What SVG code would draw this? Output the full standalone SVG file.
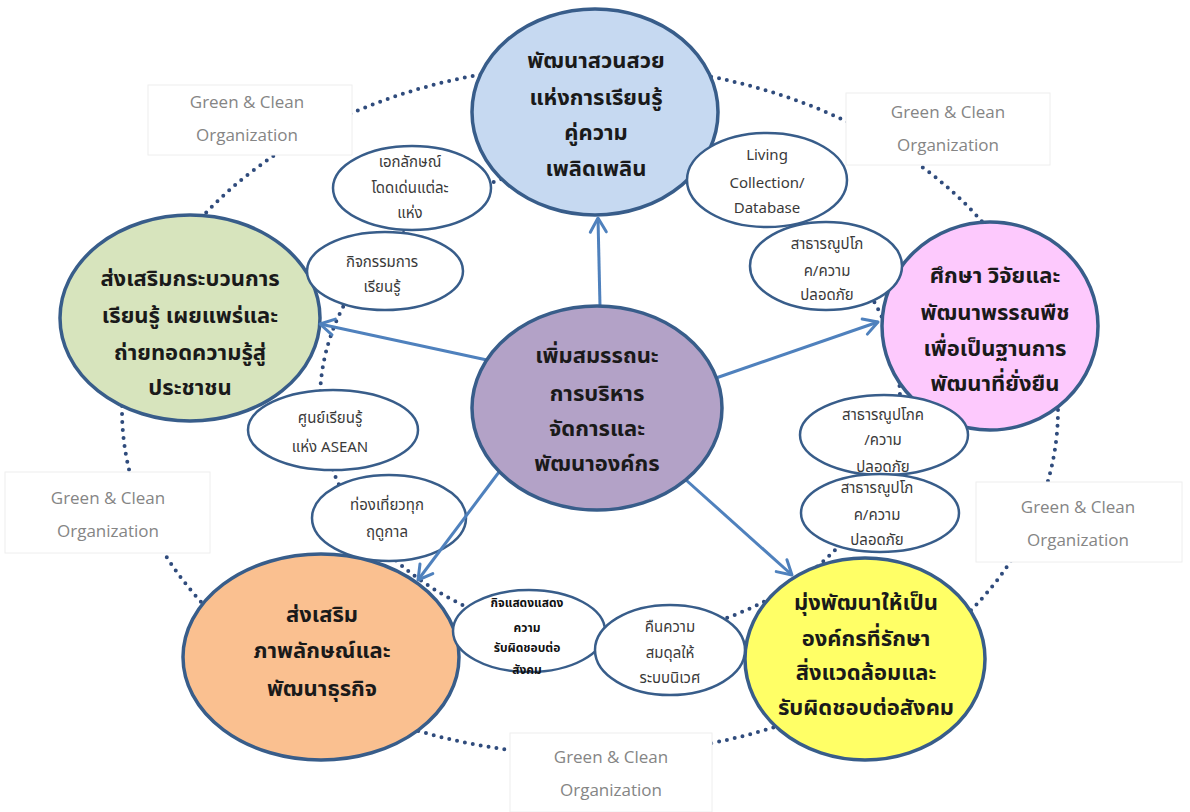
<svg xmlns="http://www.w3.org/2000/svg" width="1190" height="812" viewBox="0 0 1190 812">
<defs>
<style>
.ring{fill:none;stroke:#2F4B7C;stroke-width:4;stroke-linecap:round;stroke-dasharray:0 8}
.big{stroke:#385D8A;stroke-width:3.5}
.sm{fill:#ffffff;stroke:#385D8A;stroke-width:2.5}
.gbox{fill:#ffffff;stroke:#eeeeee;stroke-width:1}
.bt{font-family:"Noto Sans Thai","Noto Sans Thai UI","Noto Sans","DejaVu Sans",sans-serif;font-weight:bold;font-size:22px;fill:#1a1a1a;text-anchor:middle}
.st{font-family:"Noto Sans Thai","Noto Sans Thai UI","Noto Sans","DejaVu Sans",sans-serif;font-size:15px;fill:#3a3a3a;text-anchor:middle}
.sb{font-family:"Noto Sans Thai","Noto Sans Thai UI","Noto Sans","DejaVu Sans",sans-serif;font-size:12px;font-weight:bold;fill:#111;text-anchor:middle}
.gt{font-family:"Open Sans","Noto Sans",sans-serif;font-size:17px;fill:#858585;text-anchor:middle}
.arr{fill:none;stroke:#4F81BD;stroke-width:3;marker-end:url(#ah)}
</style>
<marker id="ah" markerUnits="userSpaceOnUse" markerWidth="22" markerHeight="22" viewBox="0 0 22 22" refX="19" refY="11" orient="auto">
<path d="M5,3 L19,11 L5,19" fill="none" stroke="#4F81BD" stroke-width="3" stroke-linecap="round" stroke-linejoin="round"/>
</marker>
</defs>
<rect width="1190" height="812" fill="#ffffff"/>

<g id="rings">
<ellipse class="ring" cx="590" cy="410" rx="468" ry="345"/>
<ellipse class="ring" cx="610" cy="400" rx="290" ry="238"/>
</g>

<g id="label-tl"><rect class="gbox" x="148" y="85" width="204" height="70"/><text class="gt" x="247" y="108">Green &amp; Clean</text><text class="gt" x="247" y="141">Organization</text></g>
<g id="label-tr"><rect class="gbox" x="846" y="93" width="204" height="72"/><text class="gt" x="948" y="118">Green &amp; Clean</text><text class="gt" x="948" y="151">Organization</text></g>
<g id="label-l"><rect class="gbox" x="5" y="472" width="205" height="81"/><text class="gt" x="108" y="504">Green &amp; Clean</text><text class="gt" x="108" y="537">Organization</text></g>
<g id="label-r"><rect class="gbox" x="976" y="482" width="206" height="80"/><text class="gt" x="1078" y="513">Green &amp; Clean</text><text class="gt" x="1078" y="546">Organization</text></g>
<g id="label-b"><rect class="gbox" x="510" y="733" width="202" height="79"/><text class="gt" x="611" y="763">Green &amp; Clean</text><text class="gt" x="611" y="796">Organization</text></g>

<g id="n-top"><ellipse class="big" cx="595" cy="112" rx="123" ry="103" fill="#C6D9F1"/>
<text class="bt" x="596" y="68">พัฒนาสวนสวย</text><text class="bt" x="596" y="105">แห่งการเรียนรู้</text><text class="bt" x="596" y="140">คู่ความ</text><text class="bt" x="596" y="176">เพลิดเพลิน</text></g>

<g id="n-left"><ellipse class="big" cx="190" cy="318" rx="130" ry="103" fill="#D7E4BD"/>
<text class="bt" x="190" y="286">ส่งเสริมกระบวนการ</text><text class="bt" x="190" y="323">เรียนรู้ เผยแพร่และ</text><text class="bt" x="190" y="360">ถ่ายทอดความรู้สู่</text><text class="bt" x="190" y="395">ประชาชน</text></g>

<g id="n-right"><ellipse class="big" cx="990" cy="326" rx="108" ry="104" fill="#FDC9FD"/>
<text class="bt" x="995" y="283">ศึกษา วิจัยและ</text><text class="bt" x="995" y="320">พัฒนาพรรณพืช</text><text class="bt" x="995" y="356">เพื่อเป็นฐานการ</text><text class="bt" x="995" y="391">พัฒนาที่ยั่งยืน</text></g>

<g id="n-bl"><ellipse class="big" cx="321" cy="657" rx="138" ry="103" fill="#FAC090"/>
<text class="bt" x="322" y="622">ส่งเสริม</text><text class="bt" x="322" y="658">ภาพลักษณ์และ</text><text class="bt" x="322" y="696">พัฒนาธุรกิจ</text></g>

<g id="n-br"><ellipse class="big" cx="865" cy="659" rx="120" ry="101" fill="#FFFF66"/>
<text class="bt" x="866" y="610">มุ่งพัฒนาให้เป็น</text><text class="bt" x="866" y="646">องค์กรที่รักษา</text><text class="bt" x="866" y="680">สิ่งแวดล้อมและ</text><text class="bt" x="866" y="715">รับผิดชอบต่อสังคม</text></g>

<g id="s1"><ellipse class="sm" cx="412" cy="188" rx="79" ry="42"/>
<text class="st" x="410" y="167">เอกลักษณ์</text><text class="st" x="410" y="193">โดดเด่นแต่ละ</text><text class="st" x="410" y="218">แห่ง</text></g>
<g id="s2"><ellipse class="sm" cx="385" cy="271" rx="78" ry="39"/>
<text class="st" x="382" y="267">กิจกรรมการ</text><text class="st" x="382" y="292">เรียนรู้</text></g>
<g id="s3"><ellipse class="sm" cx="767" cy="180" rx="80" ry="47"/>
<text class="st" x="767" y="160">Living</text><text class="st" x="767" y="188">Collection/</text><text class="st" x="767" y="213">Database</text></g>
<g id="s4"><ellipse class="sm" cx="826" cy="266" rx="76" ry="44"/>
<text class="st" x="827" y="249">สาธารณูปโภ</text><text class="st" x="827" y="276">ค/ความ</text><text class="st" x="827" y="300">ปลอดภัย</text></g>
<g id="s5"><ellipse class="sm" cx="333" cy="430" rx="85" ry="40"/>
<text class="st" x="330" y="423">ศูนย์เรียนรู้</text><text class="st" x="330" y="452">แห่ง ASEAN</text></g>
<g id="s6"><ellipse class="sm" cx="389" cy="518" rx="77" ry="43"/>
<text class="st" x="387" y="510">ท่องเที่ยวทุก</text><text class="st" x="387" y="537">ฤดูกาล</text></g>
<g id="s7"><ellipse class="sm" cx="884" cy="435" rx="84" ry="40"/>
<text class="st" x="883" y="420">สาธารณูปโภค</text><text class="st" x="883" y="445">/ความ</text><text class="st" x="883" y="472">ปลอดภัย</text></g>
<g id="s8"><ellipse class="sm" cx="880" cy="513" rx="79" ry="39"/>
<text class="st" x="877" y="493">สาธารณูปโภ</text><text class="st" x="877" y="520">ค/ความ</text><text class="st" x="877" y="545">ปลอดภัย</text></g>
<g id="s9"><ellipse class="sm" cx="529" cy="631" rx="76" ry="41"/>
<text class="sb" x="527" y="607">กิจแสดงแสดง</text><text class="sb" x="527" y="632">ความ</text><text class="sb" x="527" y="652">รับผิดชอบต่อ</text><text class="sb" x="527" y="674">สังคม</text></g>
<g id="s10"><ellipse class="sm" cx="670" cy="650" rx="75" ry="45"/>
<text class="st" x="670" y="632">คืนความ</text><text class="st" x="670" y="658">สมดุลให้</text><text class="st" x="670" y="683">ระบบนิเวศ</text></g>

<g id="connectors">
<line class="arr" x1="600" y1="306" x2="598" y2="218"/>
<line class="arr" x1="487" y1="360" x2="320" y2="324"/>
<line class="arr" x1="716" y1="378" x2="878" y2="322"/>
<line class="arr" x1="499" y1="472" x2="418" y2="580"/>
<line class="arr" x1="686" y1="480" x2="792" y2="575"/>
</g>

<g id="n-center"><ellipse class="big" cx="597" cy="408" rx="125" ry="102" fill="#B3A2C7"/>
<text class="bt" x="597" y="363">เพิ่มสมรรถนะ</text><text class="bt" x="597" y="401">การบริหาร</text><text class="bt" x="597" y="436">จัดการและ</text><text class="bt" x="597" y="471">พัฒนาองค์กร</text></g>
</svg>
